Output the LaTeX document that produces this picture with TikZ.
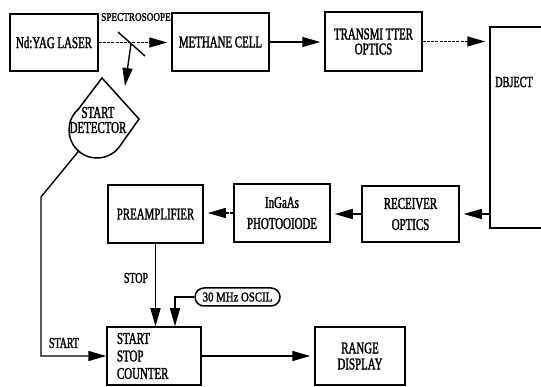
\documentclass[tikz,border=0pt]{standalone}
\usepackage{fontspec}
\setmainfont{Liberation Serif}[FakeStretch=0.66,FakeBold=1.6]
\newfontfamily\smallfont{Liberation Serif}[FakeStretch=0.8,FakeBold=1.6]
\usetikzlibrary{arrows.meta,calc}
\tikzset{
  box/.style={draw, line width=1.5pt, align=center, inner sep=0pt, font=\fontsize{16.5}{15}\selectfont},
  conn/.style={line width=1.4pt},
  arr/.style={conn, -{Triangle[length=18pt,width=10pt]}, shorten >=4pt},
  dashline/.style={dash pattern=on 3pt off 1.2pt},
  lbl/.style={inner sep=0pt, font=\fontsize{15}{15}\selectfont},
}
\begin{document}
\begin{tikzpicture}[x=1pt,y=-1pt]
\useasboundingbox (0,0) rectangle (541,387);
\clip (0,0) rectangle (541,387);
\fill[white] (0,0) rectangle (541,387);

% boxes
\node[box, minimum width=88pt, minimum height=57pt] (laser) at (54,42.5) {Nd:YAG LASER};
\node[box, minimum width=97pt, minimum height=58pt] (methane) at (220.5,42) {METHANE CELL};
\node[box, minimum width=97pt, minimum height=59pt] (transmitter) at (373.5,41.5) {TRANSMI TTER\\OPTICS};
\node[box, minimum width=90pt, minimum height=201pt] (object) at (535,127.5) {};
\node[lbl, font=\fontsize{15.5}{15}\selectfont] (objlabel) at (514,82) {DBJECT};
\node[box, minimum width=97pt, minimum height=56pt, font=\fontsize{16.5}{21}\selectfont] (receiver) at (410.5,214) {RECEIVER\\OPTICS};
\node[box, minimum width=96pt, minimum height=58pt, font=\fontsize{16.5}{21}\selectfont] (ingaas) at (282,213) {InGaAs\\PHOTOOIODE};
\node[box, minimum width=95pt, minimum height=58pt] (preamp) at (155.5,214) {PREAMPLIFIER};
\node[box, minimum width=94pt, minimum height=58pt, text width=74pt, align=left, inner xsep=10pt, font=\fontsize{16.5}{17.5}\selectfont] (counter) at (154,356) {START\\STOP\\COUNTER};
\node[box, minimum width=90pt, minimum height=58pt, font=\fontsize{16.5}{16}\selectfont] (range) at (360,356) {RANGE\\DISPLAY};
\node[draw, line width=1.5pt, rounded corners=9pt, minimum width=85pt, minimum height=18pt, inner sep=0pt, font=\smallfont\fontsize{13.5}{13}\selectfont] (osc) at (237.5,297) {30 MHz OSCIL};

% start detector shape
\draw[line width=1.5pt] (102,78) -- (139,119) -- (120.5,145.2)
  .. controls (111.2,159.5) and (91.4,162.3) .. (78.6,151.1)
  .. controls (65.8,139.9) and (65.8,120.1) .. (78.6,108.9) -- cycle;
\node[inner sep=0pt, align=center, font=\fontsize{16.5}{15}\selectfont] (det) at (98,120) {START\\DETECTOR};
\coordinate (detin) at (125,86);
\coordinate (detout) at (78.6,151.1);
\coordinate (startbend) at (41,197);

% spectroscope mirror
\coordinate (mirror) at (131,44);
\draw[conn] (118,32) -- (145,56);
\node[inner sep=0pt, font=\smallfont\fontsize{11.5}{11}\selectfont] (speclabel) at (136,17) {SPECTROSOOPE};

% connectors
\draw[arr, dashline] (laser.east) -- (laser.east -| methane.west);
\draw[arr, shorten >=0pt] (mirror) -- (detin);
\draw[arr] (methane.east) -- (methane.east -| transmitter.west);
\draw[arr, dashline] (transmitter.east) -- (transmitter.east -| object.west);
\draw[arr] (receiver.east -| object.west) -- (receiver.east);
\draw[arr] (receiver.west) -- (receiver.west -| ingaas.east);
\draw[arr, dashline] (ingaas.west) -- (ingaas.west -| preamp.east);
\draw[arr, shorten >=0pt] (preamp.south) -- (preamp.south |- counter.north);
\draw[arr, shorten >=0pt] (osc.west) -| ($(counter.north)+(21,0)$);
\draw[arr] (counter.east) -- (range.west);
\draw[arr, shorten >=0pt] (detout) -- (startbend) -- (startbend |- counter.west) -- (counter.west);

% labels
\node[lbl] (stoplabel) at (136,278) {STOP};
\node[lbl] (startlabel) at (64,343) {START};
\end{tikzpicture}
\end{document}
